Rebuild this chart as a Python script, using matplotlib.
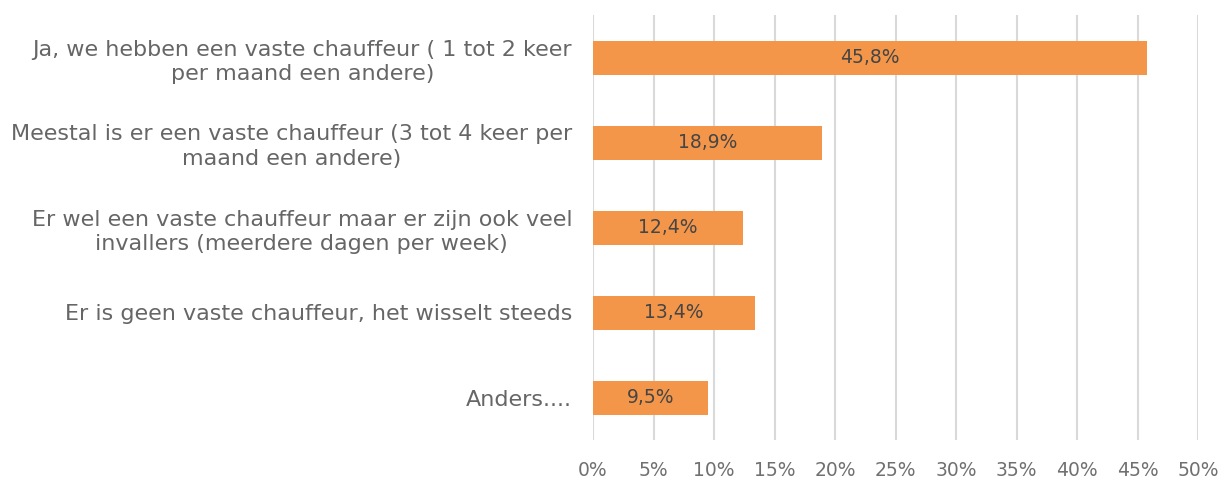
import numpy as np
import matplotlib.pyplot as plt

plt.rcParams['font.family'] = ['DejaVu Sans']

categories = [
    "Ja, we hebben een vaste chauffeur ( 1 tot 2 keer\nper maand een andere)",
    "Meestal is er een vaste chauffeur (3 tot 4 keer per\nmaand een andere)",
    "Er wel een vaste chauffeur maar er zijn ook veel\ninvallers (meerdere dagen per week)",
    "Er is geen vaste chauffeur, het wisselt steeds",
    "Anders....",
]
values = [45.8, 18.9, 12.4, 13.4, 9.5]
ticks = [0, 5, 10, 15, 20, 25, 30, 35, 40, 45, 50]

bar_color = '#F4964A'
text_color = '#666666'

fig = plt.figure(figsize=(12.31, 4.8), dpi=100)
ax = fig.add_axes([593 / 1231, 40 / 480, 605 / 1231, 425 / 480])

y = np.arange(len(categories))
ax.barh(y, values, height=0.4, color=bar_color, zorder=3)

for yi, v in zip(y, values):
    ax.text(v / 2, yi, f"{v:.1f}%".replace('.', ','), ha='center', va='center',
            fontsize=13.5, color='#454545', zorder=4)

ax.set_xlim(0, 50)
ax.set_ylim(len(categories) - 0.5, -0.5)
ax.set_xticks(ticks)
ax.set_xticklabels([f"{t}%" for t in ticks], fontsize=13.5, color='#707070')
ax.set_yticks(y)
ax.set_yticklabels(categories, fontsize=16, color=text_color, ha='right', ma='center',
                   linespacing=1.3)

ax.grid(axis='x', color='#D9D9D9', linewidth=1.5, zorder=0)
ax.tick_params(axis='both', length=0)
ax.tick_params(axis='y', pad=15)
ax.tick_params(axis='x', pad=15)
for s in ax.spines.values():
    s.set_visible(False)

fig.savefig('out.png', dpi=100)
